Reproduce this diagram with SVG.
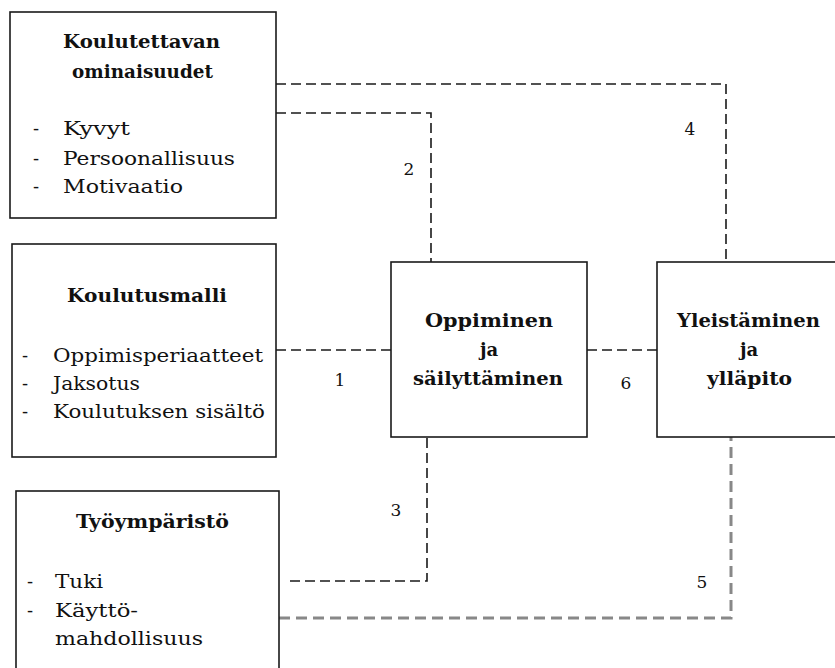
<svg xmlns="http://www.w3.org/2000/svg" width="835" height="668" viewBox="0 0 835 668">
<style>
.box{fill:#fff;stroke:#1a1a1a;stroke-width:1.6}
.t{font-family:"DejaVu Serif","Liberation Serif",serif;font-size:18px;fill:#111}
.b{font-weight:bold;text-anchor:middle}
.n{font-family:"DejaVu Serif","Liberation Serif",serif;font-size:17px;fill:#111;text-anchor:middle}
.d{fill:none;stroke:#1a1a1a;stroke-width:1.6;stroke-dasharray:10 5}
.g{fill:none;stroke:#888;stroke-width:3;stroke-dasharray:11 6}
</style>
<rect width="835" height="668" fill="#fff"/>
<g id="connectors">
<polyline class="d" points="276,84 726,84 726,262"/>
<polyline class="d" points="276,113 431,113 431,262"/>
<line class="d" x1="276" y1="350" x2="391" y2="350"/>
<line class="d" x1="587" y1="350" x2="657" y2="350"/>
<polyline class="d" points="290,581 427,581 427,437"/>
<polyline class="g" points="279,618 731,618 731,437"/>
<text class="n" x="340" y="386">1</text>
<text class="n" x="409" y="175">2</text>
<text class="n" x="396" y="516">3</text>
<text class="n" x="690" y="135">4</text>
<text class="n" x="702" y="588">5</text>
<text class="n" x="626" y="389">6</text>
</g>
<g id="koulutettavan">
<rect class="box" x="10" y="12" width="266" height="206"/>
<text class="t b" x="141.5" y="48" textLength="157" lengthAdjust="spacingAndGlyphs">Koulutettavan</text>
<text class="t b" x="142.5" y="78" textLength="141" lengthAdjust="spacingAndGlyphs">ominaisuudet</text>
<text class="t" x="33" y="135">-</text><text class="t" x="63" y="135" textLength="67" lengthAdjust="spacingAndGlyphs">Kyvyt</text>
<text class="t" x="33" y="165">-</text><text class="t" x="63" y="165" textLength="172" lengthAdjust="spacingAndGlyphs">Persoonallisuus</text>
<text class="t" x="33" y="193">-</text><text class="t" x="63" y="193" textLength="120" lengthAdjust="spacingAndGlyphs">Motivaatio</text>
</g>
<g id="koulutusmalli">
<rect class="box" x="12" y="244" width="264" height="213"/>
<text class="t b" x="147" y="302" textLength="160" lengthAdjust="spacingAndGlyphs">Koulutusmalli</text>
<text class="t" x="22" y="362">-</text><text class="t" x="53" y="362" textLength="210" lengthAdjust="spacingAndGlyphs">Oppimisperiaatteet</text>
<text class="t" x="22" y="390">-</text><text class="t" x="53" y="390" textLength="87" lengthAdjust="spacingAndGlyphs">Jaksotus</text>
<text class="t" x="22" y="418">-</text><text class="t" x="53" y="418" textLength="212" lengthAdjust="spacingAndGlyphs">Koulutuksen sisältö</text>
</g>
<g id="tyoymparisto">
<rect class="box" x="16" y="491" width="263" height="190"/>
<text class="t b" x="152.5" y="528" textLength="153" lengthAdjust="spacingAndGlyphs">Työympäristö</text>
<text class="t" x="27" y="588">-</text><text class="t" x="55" y="588" textLength="48" lengthAdjust="spacingAndGlyphs">Tuki</text>
<text class="t" x="27" y="617">-</text><text class="t" x="55" y="617" textLength="83" lengthAdjust="spacingAndGlyphs">Käyttö-</text>
<text class="t" x="55" y="645" textLength="148" lengthAdjust="spacingAndGlyphs">mahdollisuus</text>
</g>
<g id="oppiminen">
<rect class="box" x="391" y="262" width="196" height="175"/>
<text class="t b" x="489" y="327" textLength="128" lengthAdjust="spacingAndGlyphs">Oppiminen</text>
<text class="t b" x="489" y="356">ja</text>
<text class="t b" x="488" y="385" textLength="150" lengthAdjust="spacingAndGlyphs">säilyttäminen</text>
</g>
<g id="yleistaminen">
<rect class="box" x="657" y="262" width="190" height="175"/>
<text class="t b" x="748.5" y="327" textLength="143" lengthAdjust="spacingAndGlyphs">Yleistäminen</text>
<text class="t b" x="749" y="356">ja</text>
<text class="t b" x="749.5" y="385" textLength="85" lengthAdjust="spacingAndGlyphs">ylläpito</text>
</g>
</svg>
